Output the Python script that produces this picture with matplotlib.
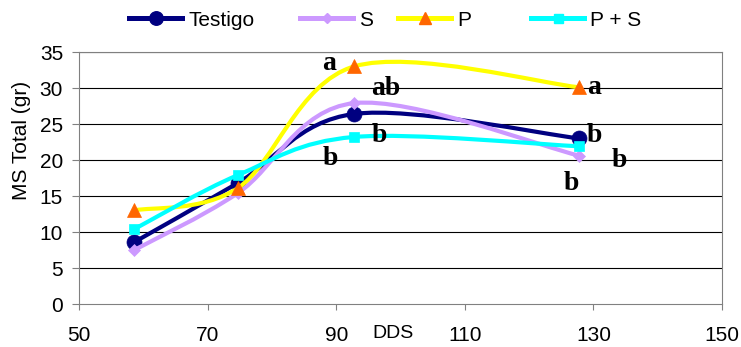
import numpy as np
import matplotlib
matplotlib.use('Agg')
import matplotlib.pyplot as plt
from matplotlib.path import Path
from matplotlib.patches import PathPatch
from matplotlib.lines import Line2D

# ---- data ----
dds = [58.6, 74.7, 92.8, 127.8]
series_names = ['Testigo', 'S', 'P', 'P + S']
testigo = [8.6, 16.8, 26.4, 23.0]
s_vals = [7.5, 15.4, 27.9, 20.6]
p_vals = [13.0, 16.1, 33.0, 30.1]
ps_vals = [10.4, 17.9, 23.2, 21.9]

letters = ['a', 'ab', 'b', 'b', 'a', 'b', 'b', 'b']
letter_x = [88.96, 97.74, 96.73, 89.16, 130.1, 130.2, 133.98, 126.5]
letter_y = [32.5, 29.03, 22.54, 19.31, 29.17, 22.54, 19.03, 15.83]

xticks = [50, 70, 90, 110, 130, 150]
yticks = [0, 5, 10, 15, 20, 25, 30, 35]

# ---- styles ----
styles = [
    dict(line='#000080', mfc='#000080', marker='o', ms=10.8),
    dict(line='#CC99FF', mfc='#CC99FF', marker='D', ms=6.2),
    dict(line='#FFFF00', mfc='#FF6600', marker='^', ms=9.4),
    dict(line='#00FFFF', mfc='#00FFFF', marker='s', ms=7.2),
]

plt.rcParams['font.family'] = ['Liberation Sans', 'DejaVu Sans']
FS = 15


def smooth_path(x, y):
    pts = np.column_stack([x, y]).astype(float)
    n = len(pts)
    verts = [pts[0]]
    codes = [Path.MOVETO]
    for i in range(n - 1):
        p0 = pts[max(i - 1, 0)]
        p1 = pts[i]
        p2 = pts[i + 1]
        p3 = pts[min(i + 2, n - 1)]
        c1 = p1 + (p2 - p0) / 6.0
        c2 = p2 - (p3 - p1) / 6.0
        verts += [c1, c2, p2]
        codes += [Path.CURVE4] * 3
    return Path(verts, codes)


W, H = 741, 347
fig = plt.figure(figsize=(W / 100, H / 100), dpi=100)
L, R, T, B = 79, 722, 52, 304
ax = fig.add_axes([L / W, 1 - B / H, (R - L) / W, (B - T) / H])

ax.set_xlim(50, 150)
ax.set_ylim(0, 35)
ax.set_xticks(xticks)
ax.set_yticks(yticks)
ax.tick_params(axis='x', direction='out', length=4.5, width=0.8, color='#808080',
               pad=11.5, labelsize=FS)
ax.tick_params(axis='y', direction='out', length=5, width=0.8, color='#808080',
               pad=6.5, labelsize=FS)
for sp in ax.spines.values():
    sp.set_color('#808080')
    sp.set_linewidth(0.8)

for yv in yticks[1:]:
    ax.axhline(yv, color='black', lw=0.8, zorder=1)

all_vals = [testigo, s_vals, p_vals, ps_vals]
handles = []
for k, (vals, st, name) in enumerate(zip(all_vals, styles, series_names)):
    patch = PathPatch(smooth_path(dds, vals), fill=False, edgecolor=st['line'],
                      lw=3.0, capstyle='round', joinstyle='round', zorder=3 + 2 * k)
    ax.add_patch(patch)
    ax.plot(dds, vals, linestyle='none', marker=st['marker'], ms=st['ms'],
            mfc=st['mfc'], mec=st['mfc'], mew=0.5, zorder=4 + 2 * k)
    handles.append(Line2D([], [], color=st['line'], lw=3.6, marker=st['marker'],
                          ms=st['ms'] * 0.9, mfc=st['mfc'], mec=st['mfc']))

for t, x, y in zip(letters, letter_x, letter_y):
    ax.text(x, y, t, family=['Liberation Serif', 'DejaVu Serif'], weight='bold',
            fontsize=20, ha='center', va='baseline', zorder=20)

ax.set_xlabel('DDS', fontsize=14)
ax.xaxis.set_label_coords((392.5 - L) / (R - L), (B - 325) / (B - T))
ax.set_ylabel('MS Total (gr)', fontsize=FS)
ax.yaxis.label.set_va('center')
ax.yaxis.set_label_coords((21.7 - L) / (R - L), (B - 140) / (B - T))

leg_x = [129.3, 300, 398, 531]
for h, name, lx in zip(handles, series_names, leg_x):
    fig.legend([h], [name], loc='center left', bbox_to_anchor=(lx / W, 1 - 20 / H),
               frameon=False, borderpad=0, borderaxespad=0, handlelength=2.55,
               handletextpad=0.3, fontsize=FS)

fig.savefig('out.png', dpi=100)
